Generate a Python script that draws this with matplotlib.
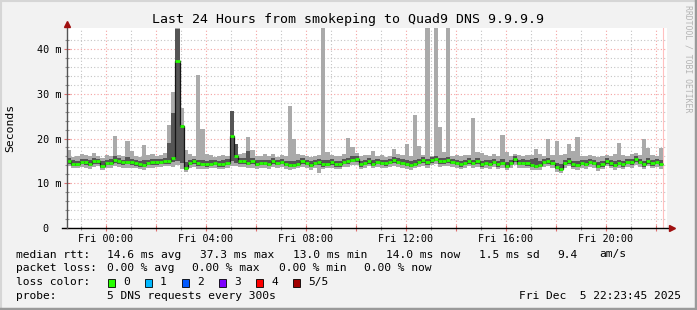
import matplotlib
matplotlib.use('Agg')
import matplotlib.pyplot as plt
import numpy as np
from matplotlib.lines import Line2D
from matplotlib.patches import Rectangle

# rtt per 10 minute step (ms), 5 pings sorted: p_min <= p_lo <= median <= p_hi <= p_max
median = [
    15.0, 14.4, 14.3, 14.8, 14.8, 14.3, 14.9, 15.0, 13.8, 14.6, 14.6, 15.2,
    15.0, 14.7, 14.8, 14.7, 14.5, 14.2, 14.1, 14.6, 14.7, 14.7, 14.8, 15.0,
    15.0, 15.6, 37.3, 22.8, 13.3, 14.6, 14.9, 14.5, 14.3, 14.2, 14.3, 14.6,
    14.2, 14.2, 14.6, 20.6, 16.1, 14.9, 15.0, 14.5, 14.9, 14.3, 14.6, 14.6,
    14.3, 15.0, 14.6, 14.8, 14.3, 14.1, 14.1, 14.4, 14.9, 14.6, 14.1, 14.5,
    14.8, 14.3, 14.4, 14.7, 14.2, 14.2, 14.8, 14.9, 15.3, 15.4, 14.2, 14.5,
    15.0, 14.4, 14.8, 14.6, 14.5, 14.8, 15.1, 14.8, 14.6, 14.3, 14.1, 14.4,
    14.8, 15.1, 14.7, 15.2, 15.5, 14.9, 15.0, 15.1, 14.8, 14.6, 14.2, 14.6,
    15.0, 14.6, 15.0, 14.2, 14.6, 14.3, 14.8, 14.2, 14.6, 13.9, 14.6, 15.4,
    14.6, 14.6, 14.5, 14.1, 13.9, 14.1, 14.8, 15.0, 14.6, 13.6, 13.2, 14.6,
    15.0, 14.2, 14.1, 14.6, 14.3, 14.8, 14.6, 13.8, 14.2, 15.0, 14.5, 14.1,
    14.6, 14.2, 14.8, 14.7, 15.4, 14.8, 14.2, 15.0, 14.5, 14.8, 14.3,
]
p_max = [
    17.5, 15.8, 16.2, 16.6, 16.4, 16.0, 16.8, 16.2, 15.6, 16.3, 16.0, 20.6,
    16.4, 16.1, 19.5, 17.3, 16.2, 15.8, 18.6, 16.4, 16.6, 16.0, 16.3, 16.8,
    23.0, 30.4, 50.0, 26.8, 17.4, 16.5, 16.2, 34.3, 22.2, 16.6, 16.4, 15.9,
    16.0, 16.3, 16.2, 26.2, 18.8, 16.5, 16.8, 20.3, 17.4, 16.0, 16.2, 16.5,
    16.2, 16.6, 15.9, 16.4, 16.1, 27.3, 19.9, 16.5, 16.3, 16.1, 15.9, 16.2,
    16.4, 50.0, 17.0, 16.3, 16.1, 16.0, 16.6, 20.1, 18.1, 16.8, 16.2, 16.4,
    16.3, 17.2, 16.0, 16.4, 15.9, 16.2, 17.7, 16.6, 16.3, 18.8, 16.0, 25.3,
    18.3, 16.4, 50.0, 16.2, 50.0, 22.6, 17.0, 50.0, 16.2, 16.4, 16.0, 16.3,
    16.4, 24.6, 17.0, 16.8, 16.3, 16.2, 16.5, 16.0, 20.8, 17.0, 16.2, 16.5,
    16.4, 16.0, 16.3, 16.4, 17.7, 16.5, 16.2, 19.9, 16.4, 19.5, 16.3, 16.6,
    18.8, 17.3, 20.3, 16.2, 16.0, 16.4, 16.2, 15.8, 16.1, 16.4, 16.2, 16.5,
    19.0, 16.3, 16.2, 16.6, 16.8, 16.3, 19.9, 17.9, 16.4, 16.2, 17.9,
]
p_hi = [
    15.6, 15.2, 15.0, 15.4, 15.5, 15.2, 15.6, 15.5, 15.0, 15.3, 15.4, 16.0,
    15.6, 15.3, 15.8, 15.5, 15.2, 15.0, 15.1, 15.3, 15.5, 15.4, 15.4, 15.6,
    19.0, 25.7, 44.5, 23.0, 14.8, 15.3, 15.5, 15.3, 15.1, 15.0, 15.1, 15.3,
    15.0, 15.1, 15.4, 26.2, 18.8, 15.6, 15.7, 17.2, 15.6, 15.1, 15.3, 15.2,
    15.1, 15.6, 15.3, 15.5, 15.0, 14.9, 15.0, 15.1, 15.6, 15.3, 14.9, 15.2,
    15.4, 15.2, 15.3, 15.4, 15.0, 14.9, 15.5, 15.6, 16.0, 16.1, 15.0, 15.2,
    15.6, 15.1, 15.5, 15.3, 15.2, 15.5, 15.8, 15.6, 15.4, 15.1, 14.9, 15.2,
    15.5, 15.8, 15.4, 15.8, 16.1, 15.6, 15.7, 15.8, 15.5, 15.3, 15.0, 15.3,
    15.7, 15.3, 15.7, 15.0, 15.3, 15.1, 15.5, 15.0, 15.4, 14.8, 15.3, 16.0,
    15.3, 15.4, 15.2, 15.4, 15.6, 14.9, 15.5, 15.7, 15.3, 14.5, 14.2, 15.3,
    15.7, 15.0, 14.9, 15.3, 15.1, 15.5, 15.3, 14.7, 15.0, 15.7, 15.2, 14.9,
    15.3, 15.0, 15.5, 15.4, 16.0, 15.5, 15.0, 15.7, 15.2, 15.5, 15.1,
]
p_lo = [
    14.3, 13.9, 13.8, 14.2, 14.1, 13.8, 14.2, 14.4, 13.3, 14.0, 14.0, 14.5,
    14.3, 14.1, 14.2, 14.1, 13.9, 13.7, 13.6, 14.0, 14.1, 14.1, 14.2, 14.3,
    14.4, 14.8, 15.0, 14.5, 12.9, 14.0, 14.3, 13.9, 13.8, 13.7, 13.8, 14.0,
    13.7, 13.7, 14.0, 15.0, 14.6, 14.2, 14.3, 14.0, 14.2, 13.8, 14.0, 14.0,
    13.8, 14.4, 14.0, 14.2, 13.8, 13.6, 13.6, 13.9, 14.3, 14.0, 13.6, 14.0,
    14.1, 13.7, 13.9, 14.1, 13.7, 13.7, 14.2, 14.3, 14.7, 14.7, 13.7, 14.0,
    14.4, 13.9, 14.2, 14.0, 13.9, 14.2, 14.5, 14.2, 14.0, 13.8, 13.6, 13.9,
    14.2, 14.5, 14.1, 14.6, 14.9, 14.3, 14.4, 14.5, 14.2, 14.0, 13.7, 14.0,
    14.4, 14.0, 14.4, 13.7, 14.0, 13.8, 14.2, 13.7, 14.0, 13.4, 14.0, 14.7,
    14.0, 14.0, 13.9, 13.6, 13.4, 13.6, 14.2, 14.4, 14.0, 13.1, 12.8, 14.0,
    14.4, 13.7, 13.6, 14.0, 13.8, 14.2, 14.0, 13.3, 13.7, 14.4, 13.9, 13.6,
    14.0, 13.7, 14.2, 14.1, 14.7, 14.2, 13.7, 14.4, 13.9, 14.2, 13.8,
]
p_min = [
    13.8, 13.4, 13.3, 13.6, 13.5, 13.2, 13.7, 13.8, 12.9, 13.4, 13.5, 13.9,
    13.6, 13.5, 13.3, 13.5, 13.3, 13.2, 13.0, 13.4, 13.5, 13.6, 13.6, 13.8,
    13.9, 13.6, 14.0, 13.2, 12.6, 13.4, 13.7, 13.2, 13.1, 13.2, 13.3, 13.4,
    13.1, 13.2, 13.4, 13.9, 13.9, 13.6, 13.6, 13.3, 13.5, 13.2, 13.4, 13.4,
    13.2, 13.7, 13.3, 13.6, 13.2, 13.0, 13.1, 13.3, 13.7, 13.4, 13.0, 13.3,
    12.3, 13.1, 13.3, 13.5, 13.1, 13.1, 13.6, 13.7, 14.0, 14.1, 13.1, 13.4,
    13.8, 13.3, 13.6, 13.4, 13.3, 13.6, 13.9, 13.6, 13.3, 13.2, 13.0, 13.3,
    13.6, 13.9, 13.5, 14.0, 14.3, 13.7, 13.8, 13.9, 13.6, 13.4, 13.1, 13.4,
    13.8, 13.4, 13.7, 13.1, 13.4, 13.2, 13.6, 13.1, 13.4, 12.9, 13.4, 14.0,
    13.4, 13.4, 13.3, 13.0, 12.9, 13.0, 13.6, 13.8, 13.4, 12.6, 12.4, 13.3,
    13.8, 13.1, 13.0, 13.4, 13.2, 13.6, 13.4, 12.8, 13.1, 13.8, 13.3, 13.0,
    13.4, 13.1, 13.6, 13.5, 14.1, 13.6, 13.1, 13.8, 13.3, 13.6, 13.2,
]

x_tick_hours = [0, 4, 8, 12, 16, 20]
x_tick_labels = ['Fri 00:00', 'Fri 04:00', 'Fri 08:00', 'Fri 12:00', 'Fri 16:00', 'Fri 20:00']
y_ticks = [0, 10, 20, 30, 40]
y_tick_labels = ['0  ', '10 m', '20 m', '30 m', '40 m']

title = 'Last 24 Hours from smokeping to Quad9 DNS 9.9.9.9'
rtt_legend = ['median rtt:', '14.6 ms avg', '37.3 ms max', '13.0 ms min', '14.0 ms now', '1.5 ms sd', '9.4', 'am/s']
loss_legend = ['packet loss:', '0.00 % avg', '0.00 % max', '0.00 % min', '0.00 % now']
loss_labels = ['0', '1', '2', '3', '4', '5/5']
loss_colors = ['#26ff00', '#00b8ff', '#0059ff', '#7e00ff', '#ff0000', '#a10000']
probe_text = '5 DNS requests every 300s'
stamp = 'Fri Dec  5 22:23:45 2025'

plt.rcParams['font.family'] = 'DejaVu Sans Mono'

W, H = 697, 310


def fx(px):
    return px / W


def fy(py):
    return 1 - py / H


def main():
    fig = plt.figure(figsize=(W / 100, H / 100), dpi=100, facecolor='#f2f2f2')
    ax = fig.add_axes([fx(67), fy(228), 600 / W, 200 / H])
    ax.set_facecolor('white')

    step = 1 / 6
    edges = -1.56 + np.arange(len(median) + 1) * step

    # smoke
    ax.stairs(p_max, edges, baseline=p_min, fill=True, color='#aaaaaa', lw=0, zorder=2)
    ax.stairs(p_hi, edges, baseline=p_lo, fill=True, color='#555555', lw=0, zorder=3)
    ax.stairs(median, edges, baseline=None, color='#151515', lw=0.9, zorder=4)
    ax.hlines(median, edges[:-1], edges[1:], color=loss_colors[0], lw=2.0, zorder=5)

    ax.set_xlim(-1.56, 22.44)
    ax.set_ylim(0, 44.7)

    ax.set_xticks(np.arange(0, 23, 2))
    ax.set_xticklabels([x_tick_labels[x_tick_hours.index(h)] if h in x_tick_hours else ''
                        for h in range(0, 23, 2)])
    ax.set_xticks(np.arange(-1, 23, 2), minor=True)
    ax.set_yticks(y_ticks)
    ax.set_yticklabels(y_tick_labels)
    ax.set_yticks(np.arange(2, 44, 2), minor=True)

    ax.set_axisbelow(True)
    ax.grid(which='major', color='#f5a3a3', linestyle=(0, (1, 2)), linewidth=0.8)
    ax.grid(which='minor', color='#c4c4c4', linestyle=(0, (1, 2)), linewidth=0.8)
    ax.tick_params(which='major', direction='inout', length=4, width=0.8, color='#e07070',
                   labelsize=7.3, pad=2)
    ax.tick_params(which='minor', direction='inout', length=3, width=0.8, color='#909090')

    for s in ax.spines.values():
        s.set_visible(False)
    ax.plot([-0.008, 1.006], [0, 0], transform=ax.transAxes, color='black', lw=1, clip_on=False, zorder=6)
    ax.plot([0, 0], [0, 1.01], transform=ax.transAxes, color='#555555', lw=1, clip_on=False, zorder=6)
    ax.plot([1.008], [0], marker='>', ms=4, color='#a01010', transform=ax.transAxes, clip_on=False, zorder=7)
    ax.plot([0], [1.02], marker='^', ms=4, color='#a01010', transform=ax.transAxes, clip_on=False, zorder=7)
    ax.axvline(edges[-1], color='#ffc0c0', lw=0.8, zorder=1)

    # frame
    fig.add_artist(Line2D([0, 1], [fy(0.5), fy(0.5)], color='#d6d6d6', lw=1.5))
    fig.add_artist(Line2D([fx(0.5), fx(0.5)], [0, 1], color='#d6d6d6', lw=1.5))
    fig.add_artist(Line2D([0, 1], [fy(309), fy(309)], color='#9a9a9a', lw=2.5))
    fig.add_artist(Line2D([fx(696), fx(696)], [0, 1], color='#9a9a9a', lw=2.5))

    fig.text(fx(347.5), fy(19), title, ha='center', va='center', fontsize=9.5)
    fig.text(fx(10.5), fy(128), 'Seconds', rotation=90, ha='center', va='center', fontsize=8.2)
    fig.text(fx(688), fy(59), 'RRDTOOL / TOBI OETIKER', rotation=270, ha='center', va='center',
             fontsize=5.9, color='#b4b4b4')

    fs = 8.1
    for txt, px in zip(rtt_legend, [16, 107, 200, 293, 386, 479, 557, 599]):
        fig.text(fx(px), fy(254.5), txt, ha='left', va='center', fontsize=fs)
    for txt, px in zip(loss_legend, [16, 107, 192, 279, 364]):
        fig.text(fx(px), fy(268), txt, ha='left', va='center', fontsize=fs)
    fig.text(fx(16), fy(282), 'loss color:', ha='left', va='center', fontsize=fs)
    for i, (lab, col) in enumerate(zip(loss_labels, loss_colors)):
        bx = 108 + i * 37
        fig.add_artist(Rectangle((fx(bx), fy(286.5)), 7 / W, 8 / H, facecolor=col,
                                 edgecolor='black', lw=0.6, transform=fig.transFigure))
        fig.text(fx(bx + 15), fy(282), lab, ha='left', va='center', fontsize=fs)
    fig.text(fx(16), fy(296), 'probe:', ha='left', va='center', fontsize=fs)
    fig.text(fx(107), fy(296), probe_text, ha='left', va='center', fontsize=fs)
    fig.text(fx(681), fy(296), stamp, ha='right', va='center', fontsize=fs)

    fig.savefig('out.png', dpi=100, facecolor=fig.get_facecolor())


if __name__ == '__main__':
    main()
